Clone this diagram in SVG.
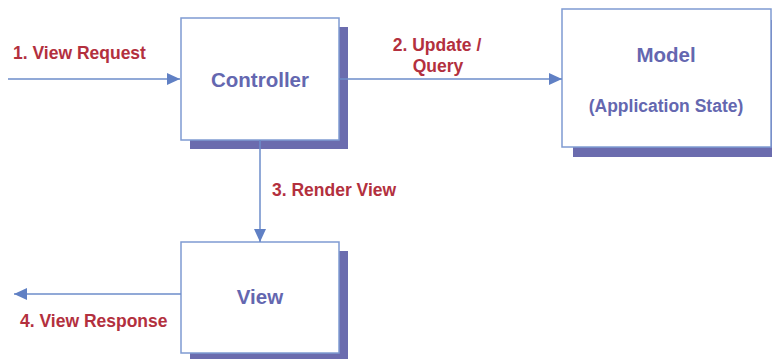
<svg xmlns="http://www.w3.org/2000/svg" width="772" height="359" viewBox="0 0 772 359">
<style>
.shadow{fill:#6b6cae}
.box{fill:#ffffff;stroke:#7f9bd2;stroke-width:1.5}
.node{font-family:"Liberation Sans",Arial,sans-serif;font-weight:bold;fill:#6467b0;text-anchor:middle}
.lbl{font-family:"Liberation Sans",Arial,sans-serif;font-weight:bold;fill:#b3303e;font-size:17.5px}
.conn{stroke:#6c8cca;stroke-width:1.5;fill:none}
</style>
<defs>
<marker id="ah" markerUnits="userSpaceOnUse" markerWidth="14" markerHeight="12" refX="13" refY="6" orient="auto">
<path d="M0,0 L13,6 L0,12 Z" fill="#6080c4"/>
</marker>
</defs>
<rect width="772" height="359" fill="#ffffff"/>
<g id="controller">
<rect class="shadow" x="190" y="27" width="158" height="122"/>
<rect class="box" x="181" y="18" width="158" height="122"/>
<text class="node" x="260" y="87" font-size="20.5">Controller</text>
</g>
<g id="model">
<rect class="shadow" x="573" y="20" width="209" height="137"/>
<rect class="box" x="562" y="9" width="209" height="138"/>
<text class="node" x="666" y="62" font-size="20.5">Model</text>
<text class="node" x="666" y="112" font-size="17.5">(Application State)</text>
</g>
<g id="view">
<rect class="shadow" x="190" y="251" width="158" height="112"/>
<rect class="box" x="181" y="242" width="158" height="111"/>
<text class="node" x="260" y="304" font-size="20.5">View</text>
</g>
<g id="connectors">
<line class="conn" x1="8" y1="79" x2="180" y2="79" marker-end="url(#ah)"/>
<line class="conn" x1="339" y1="79" x2="562" y2="79" marker-end="url(#ah)"/>
<line class="conn" x1="260" y1="140" x2="260" y2="242" marker-end="url(#ah)"/>
<line class="conn" x1="181" y1="294" x2="14" y2="294" marker-end="url(#ah)"/>
<text class="lbl" x="13" y="59">1. View Request</text>
<text class="lbl" x="437" y="51" text-anchor="middle">2. Update /</text>
<text class="lbl" x="438" y="72" text-anchor="middle">Query</text>
<text class="lbl" x="272" y="196">3. Render View</text>
<text class="lbl" x="20" y="327">4. View Response</text>
</g>
</svg>
